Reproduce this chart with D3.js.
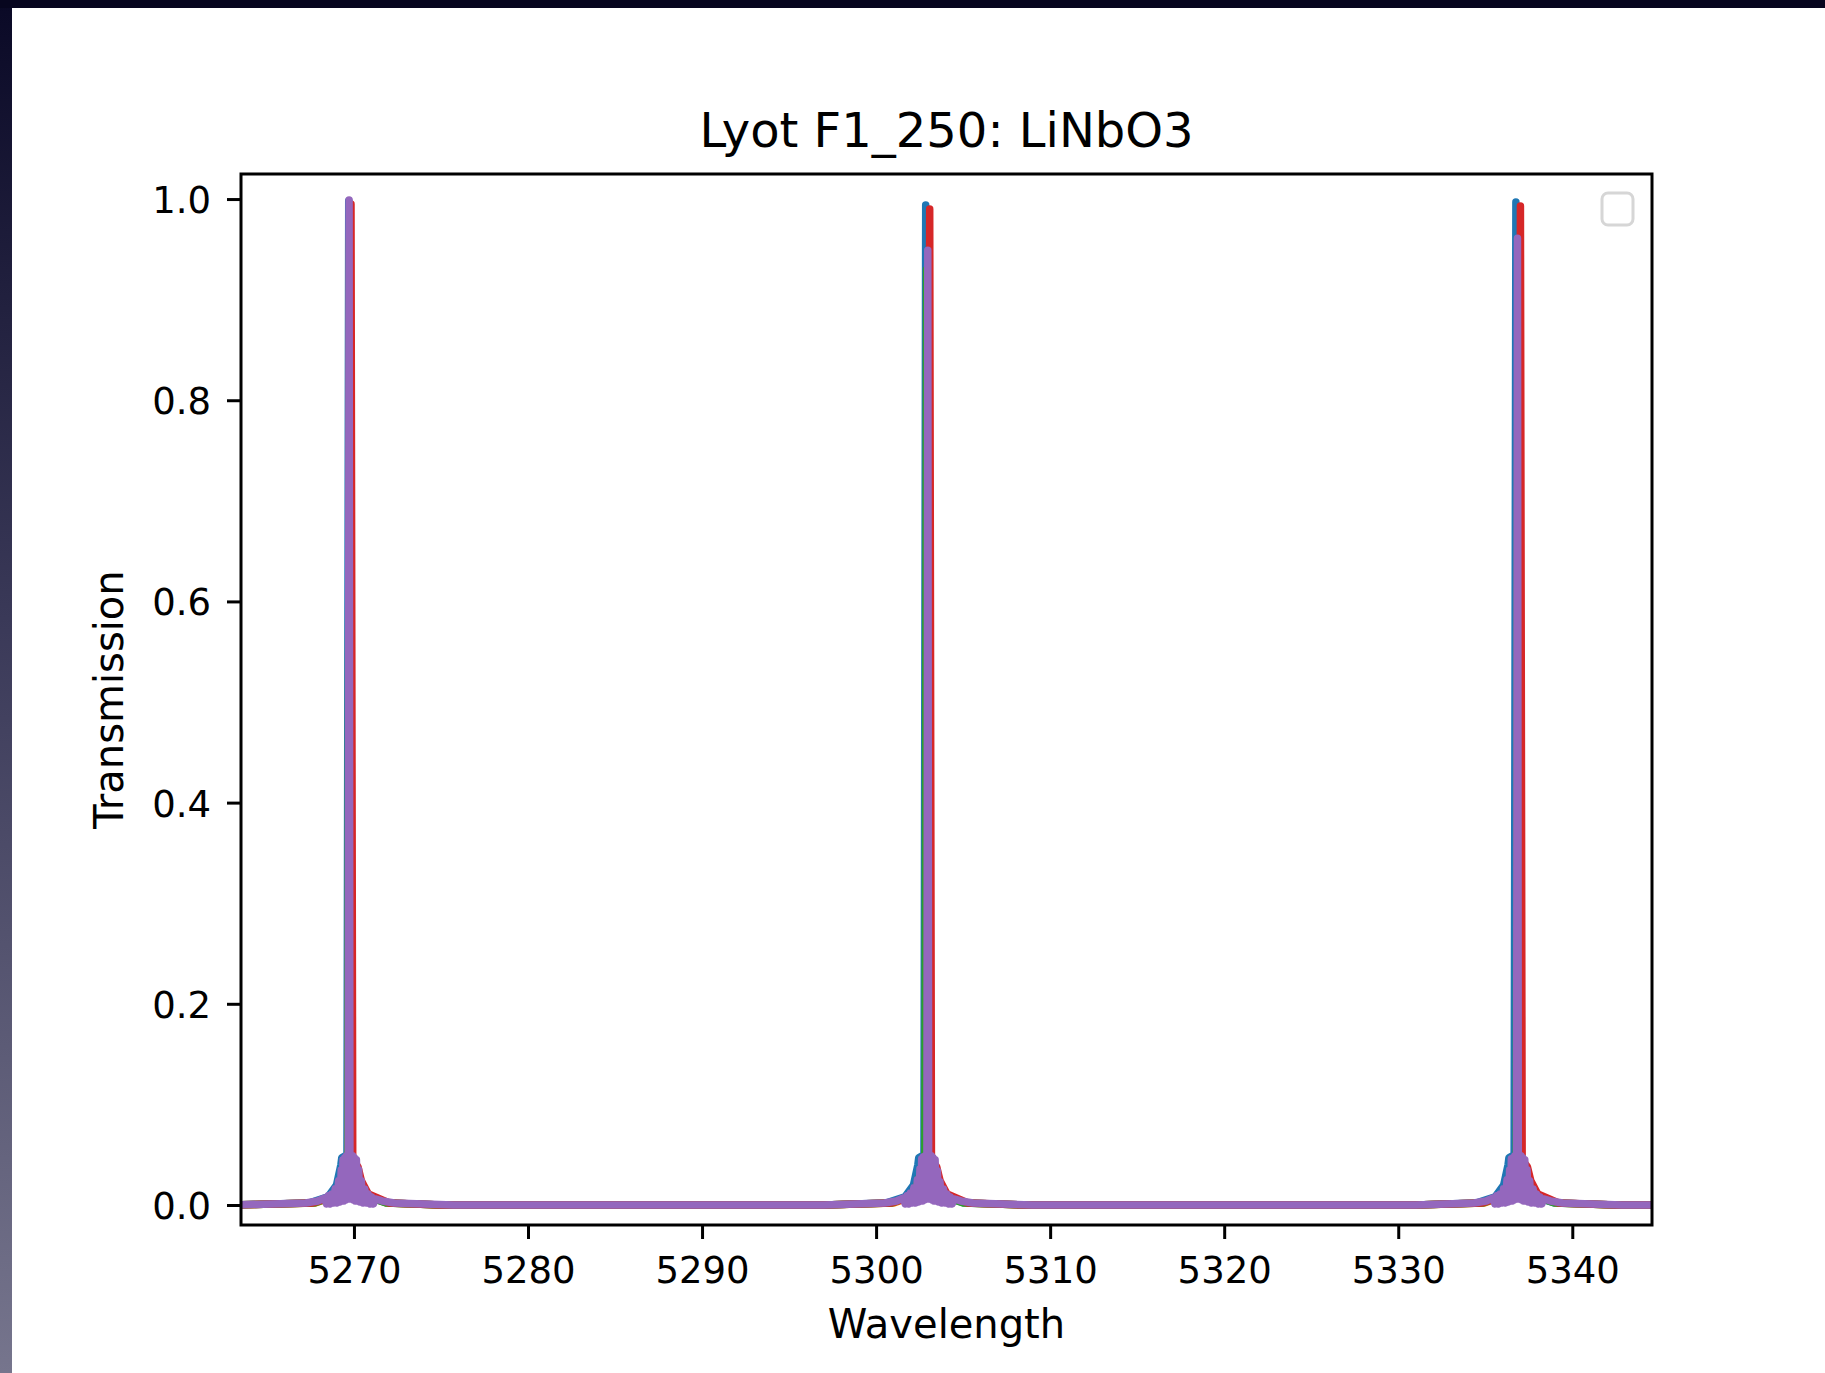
<!DOCTYPE html>
<html>
<head>
<meta charset="utf-8">
<script src="https://cdn.jsdelivr.net/npm/d3@7"></script>
<style>
  html, body { margin: 0; padding: 0; background: #ffffff; }
  svg { display: block; }
  text { font-family: "DejaVu Sans", sans-serif; fill: #000; }
</style>
</head>
<body>
<svg id="chart" width="1825" height="1373"></svg>
<script>
// Lyot filter transmission curves, one [wavelength, transmission] list per stage setting.
const series0 = [
  [5263.0,0.0],
  [5267.40,0.002],[5268.50,0.008],[5269.00,0.02],[5269.25,0.04],[5269.30,0.047],[5269.60,0.05],[5269.70,0.998],[5269.80,0.05],[5270.05,0.04],[5270.30,0.02],[5270.80,0.008],[5271.90,0.002],[5275.0,0.0],
  [5297.0,0.0],
  [5300.55,0.002],[5301.65,0.008],[5302.15,0.02],[5302.40,0.04],[5302.45,0.047],[5302.75,0.05],[5302.85,0.994],[5302.95,0.05],[5303.20,0.04],[5303.45,0.02],[5303.95,0.008],[5305.05,0.002],[5308.5,0.0],
  [5331.0,0.0],
  [5334.46,0.002],[5335.56,0.008],[5336.06,0.02],[5336.31,0.04],[5336.36,0.047],[5336.66,0.05],[5336.76,0.997],[5336.86,0.05],[5337.11,0.04],[5337.36,0.02],[5337.86,0.008],[5338.96,0.002],[5342.5,0.0],
  [5345.5,0.0]
];
const series1 = [
  [5263.0,0.0],
  [5267.78,0.002],[5268.78,0.008],[5269.23,0.02],[5269.48,0.035],[5269.68,0.045],[5269.78,0.97],[5269.88,0.045],[5270.13,0.035],[5270.43,0.02],[5270.88,0.008],[5271.88,0.002],[5275.0,0.0],
  [5297.0,0.0],
  [5301.02,0.002],[5302.02,0.008],[5302.47,0.02],[5302.72,0.035],[5302.92,0.045],[5303.02,0.935],[5303.12,0.045],[5303.37,0.035],[5303.67,0.02],[5304.12,0.008],[5305.12,0.002],[5308.5,0.0],
  [5331.0,0.0],
  [5334.95,0.002],[5335.95,0.008],[5336.40,0.02],[5336.65,0.035],[5336.85,0.045],[5336.95,0.95],[5337.05,0.045],[5337.30,0.035],[5337.60,0.02],[5338.05,0.008],[5339.05,0.002],[5342.5,0.0],
  [5345.5,0.0]
];
const series2 = [
  [5263.0,0.0],
  [5267.74,0.002],[5268.74,0.008],[5269.14,0.018],[5269.36,0.03],[5269.64,0.04],[5269.74,0.96],[5269.84,0.04],[5270.14,0.03],[5270.44,0.018],[5270.84,0.008],[5271.84,0.002],[5275.0,0.0],
  [5297.0,0.0],
  [5300.90,0.002],[5301.90,0.008],[5302.30,0.018],[5302.52,0.03],[5302.80,0.04],[5302.90,0.93],[5303.00,0.04],[5303.30,0.03],[5303.60,0.018],[5304.00,0.008],[5305.00,0.002],[5308.5,0.0],
  [5331.0,0.0],
  [5334.88,0.002],[5335.88,0.008],[5336.28,0.018],[5336.50,0.03],[5336.78,0.04],[5336.88,0.945],[5336.98,0.04],[5337.28,0.03],[5337.58,0.018],[5337.98,0.008],[5338.98,0.002],[5342.5,0.0],
  [5345.5,0.0]
];
const series3 = [
  [5263.0,0.0],
  [5267.63,0.002],[5268.73,0.008],[5269.23,0.018],[5269.48,0.03],[5269.73,0.04],[5269.83,0.995],[5269.93,0.045],[5270.23,0.038],[5270.43,0.024],[5270.83,0.011],[5272.03,0.002],[5275.0,0.0],
  [5297.0,0.0],
  [5300.88,0.002],[5301.98,0.008],[5302.48,0.018],[5302.73,0.03],[5302.98,0.04],[5303.08,0.990],[5303.18,0.045],[5303.48,0.038],[5303.68,0.024],[5304.08,0.011],[5305.28,0.002],[5308.5,0.0],
  [5331.0,0.0],
  [5334.82,0.002],[5335.92,0.008],[5336.42,0.018],[5336.67,0.03],[5336.92,0.04],[5337.02,0.993],[5337.12,0.045],[5337.42,0.038],[5337.62,0.024],[5338.02,0.011],[5339.22,0.002],[5342.5,0.0],
  [5345.5,0.0]
];
// Final stage: fine fringes under the envelope near each passband
const series4 = [
  [5263.0,0.0],[5267.22,0.002],[5267.92,0.004],
  [5268.32,0.007],[5268.42,0.001],[5268.52,0.009],[5268.62,0.001],[5268.72,0.011],[5268.82,0.002],[5268.92,0.016],[5269.02,0.002],[5269.12,0.024],[5269.20,0.003],
  [5269.27,0.035],[5269.32,0.004],[5269.37,0.045],[5269.42,0.004],[5269.47,0.047],[5269.52,0.005],[5269.57,0.049],[5269.62,0.006],[5269.67,0.050],
  [5269.72,0.999],
  [5269.77,0.006],[5269.82,0.050],[5269.87,0.006],[5269.92,0.049],[5269.97,0.005],[5270.02,0.047],[5270.07,0.004],[5270.14,0.045],[5270.20,0.004],
  [5270.27,0.035],[5270.34,0.003],[5270.42,0.024],[5270.52,0.002],[5270.62,0.016],[5270.72,0.002],[5270.82,0.011],[5270.92,0.001],[5271.02,0.008],[5271.12,0.001],[5271.22,0.006],
  [5271.62,0.004],[5272.32,0.002],[5275.72,0.0],
  [5297.0,0.0],[5300.47,0.002],[5301.17,0.004],
  [5301.57,0.007],[5301.67,0.001],[5301.77,0.009],[5301.87,0.001],[5301.97,0.012],[5302.07,0.002],[5302.17,0.017],[5302.27,0.002],[5302.37,0.025],[5302.45,0.003],
  [5302.52,0.036],[5302.57,0.004],[5302.62,0.046],[5302.67,0.004],[5302.72,0.048],[5302.77,0.005],[5302.82,0.049],[5302.87,0.006],[5302.92,0.050],
  [5302.97,0.949],
  [5303.02,0.006],[5303.07,0.050],[5303.12,0.006],[5303.17,0.049],[5303.22,0.005],[5303.27,0.047],[5303.32,0.004],[5303.39,0.045],[5303.45,0.004],
  [5303.52,0.034],[5303.59,0.003],[5303.67,0.023],[5303.77,0.002],[5303.87,0.016],[5303.97,0.002],[5304.07,0.011],[5304.17,0.001],[5304.27,0.008],[5304.37,0.001],[5304.47,0.006],
  [5304.87,0.004],[5305.57,0.002],[5308.97,0.0],
  [5331.0,0.0],[5334.35,0.002],[5335.05,0.004],
  [5335.45,0.007],[5335.55,0.001],[5335.65,0.009],[5335.75,0.001],[5335.85,0.011],[5335.95,0.002],[5336.05,0.016],[5336.15,0.002],[5336.25,0.025],[5336.33,0.003],
  [5336.40,0.035],[5336.45,0.004],[5336.50,0.046],[5336.55,0.004],[5336.60,0.047],[5336.65,0.005],[5336.70,0.049],[5336.75,0.006],[5336.80,0.050],
  [5336.85,0.961],
  [5336.90,0.006],[5336.95,0.050],[5337.00,0.006],[5337.05,0.049],[5337.10,0.005],[5337.15,0.047],[5337.20,0.004],[5337.27,0.045],[5337.33,0.004],
  [5337.40,0.035],[5337.47,0.003],[5337.55,0.024],[5337.65,0.002],[5337.75,0.016],[5337.85,0.002],[5337.95,0.011],[5338.05,0.001],[5338.15,0.008],[5338.25,0.001],[5338.35,0.006],
  [5338.75,0.004],[5339.45,0.002],[5342.85,0.0],
  [5345.5,0.0]
];
const allSeries = [series0, series1, series2, series3, series4];
const seriesColors = ["#1f77b4", "#ff7f0e", "#2ca02c", "#d62728", "#9467bd"];

const xTicks = [5270, 5280, 5290, 5300, 5310, 5320, 5330, 5340];
const yTicks = [0.0, 0.2, 0.4, 0.6, 0.8, 1.0];
const xDomain = [5263.51, 5344.58];
const yDomain = [-0.0199, 1.0249];

const titleText = "Lyot F1_250: LiNbO3";
const xLabelText = "Wavelength";
const yLabelText = "Transmission";

// Layout
const W = 1825, H = 1373;
const plot = { left: 241, right: 1652, top: 174, bottom: 1225 };

const svg = d3.select("#chart");

// Window frame around the figure
const defs = svg.append("defs");
const grad = defs.append("linearGradient")
  .attr("id", "frameGrad").attr("x1", 0).attr("y1", 0).attr("x2", 0).attr("y2", 1);
grad.append("stop").attr("offset", "0%").attr("stop-color", "#0a0926");
grad.append("stop").attr("offset", "45%").attr("stop-color", "#3a3958");
grad.append("stop").attr("offset", "100%").attr("stop-color", "#76758d");

svg.append("rect").attr("x", 0).attr("y", 0).attr("width", W).attr("height", H).attr("fill", "#ffffff");
svg.append("rect").attr("x", 0).attr("y", 0).attr("width", 12).attr("height", H).attr("fill", "url(#frameGrad)");
svg.append("rect").attr("x", 0).attr("y", 0).attr("width", W).attr("height", 8).attr("fill", "#07061f");

const x = d3.scaleLinear().domain(xDomain).range([plot.left, plot.right]);
const y = d3.scaleLinear().domain(yDomain).range([plot.bottom, plot.top]);

defs.append("clipPath").attr("id", "plotClip")
  .append("rect")
  .attr("x", plot.left).attr("y", plot.top)
  .attr("width", plot.right - plot.left).attr("height", plot.bottom - plot.top);

// Curves, drawn in series order so the last one sits on top
const line = d3.line().x(d => x(d[0])).y(d => y(d[1]));
const curves = svg.append("g").attr("clip-path", "url(#plotClip)");
allSeries.forEach((s, i) => {
  curves.append("path")
    .datum(s)
    .attr("d", line)
    .attr("fill", "none")
    .attr("stroke", seriesColors[i])
    .attr("stroke-width", 7.5)
    .attr("stroke-linejoin", "round")
    .attr("stroke-linecap", "butt");
});

// Axes
const xAxis = d3.axisBottom(x).tickValues(xTicks).tickSize(14).tickPadding(0)
  .tickFormat(d3.format("d"));
const gx = svg.append("g").attr("transform", `translate(0,${plot.bottom})`).call(xAxis);
gx.select(".domain").remove();
gx.selectAll(".tick line").attr("stroke", "#000").attr("stroke-width", 3);
gx.selectAll(".tick text")
  .attr("y", 58).attr("dy", null)
  .style("font-size", "37px").style("font-family", "DejaVu Sans, sans-serif")
  .attr("fill", "#000");

const yAxis = d3.axisLeft(y).tickValues(yTicks).tickSize(14).tickPadding(0)
  .tickFormat(d3.format(".1f"));
const gy = svg.append("g").attr("transform", `translate(${plot.left},0)`).call(yAxis);
gy.select(".domain").remove();
gy.selectAll(".tick line").attr("stroke", "#000").attr("stroke-width", 3);
gy.selectAll(".tick text")
  .attr("x", -30).attr("dy", "13.5px")
  .style("font-size", "37px").style("font-family", "DejaVu Sans, sans-serif")
  .attr("fill", "#000");

// Spines
svg.append("rect")
  .attr("x", plot.left).attr("y", plot.top)
  .attr("width", plot.right - plot.left).attr("height", plot.bottom - plot.top)
  .attr("fill", "none").attr("stroke", "#000").attr("stroke-width", 3);

// Empty legend frame
svg.append("rect")
  .attr("x", plot.right - 50).attr("y", plot.top + 19)
  .attr("width", 31).attr("height", 32)
  .attr("rx", 6).attr("ry", 6)
  .attr("fill", "#ffffff").attr("stroke", "#d6d6d6").attr("stroke-width", 3);

// Title and axis labels
svg.append("text")
  .attr("x", (plot.left + plot.right) / 2).attr("y", 147)
  .attr("text-anchor", "middle").style("font-size", "48px")
  .text(titleText);

svg.append("text")
  .attr("x", (plot.left + plot.right) / 2).attr("y", 1338)
  .attr("text-anchor", "middle").style("font-size", "40px")
  .text(xLabelText);

svg.append("text")
  .attr("transform", `translate(123,${(plot.top + plot.bottom) / 2}) rotate(-90)`)
  .attr("text-anchor", "middle").style("font-size", "40px")
  .text(yLabelText);
</script>
</body>
</html>
